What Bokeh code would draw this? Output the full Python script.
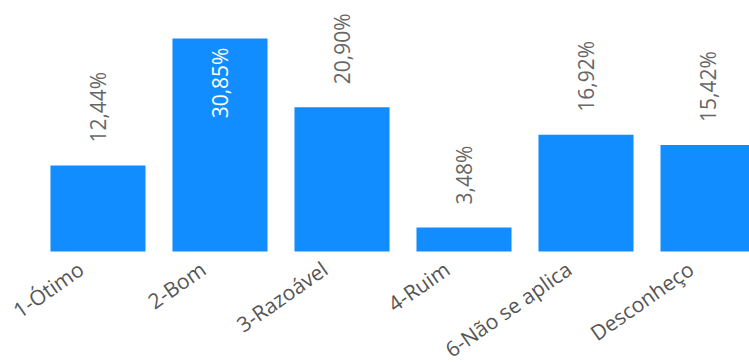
import math
from bokeh.plotting import figure
from bokeh.models import Range1d, ColumnDataSource
from bokeh.core.properties import value
from bokeh.embed import file_html
from bokeh.resources import INLINE

categories = ["1-Ótimo", "2-Bom", "3-Razoável", "4-Ruim", "6-Não se aplica", "Desconheço"]
values = [12.44, 30.85, 20.90, 3.48, 16.92, 15.42]
inside = [False, True, False, False, False, False]

BAR = "#118DFF"
FONT = "Open Sans"

centers = [i + 0.5 for i in range(len(categories))]
labels = [f"{v:.2f}".replace(".", ",") + "%" for v in values]

p = figure(width=749, height=362, output_backend="svg", toolbar_location=None,
           x_range=Range1d(-0.299, 5.84), y_range=Range1d(-16.08, 36.36),
           min_border_left=0, min_border_right=0, min_border_top=0, min_border_bottom=0)
p.outline_line_color = None
p.grid.visible = False
p.axis.visible = False
p.background_fill_color = "white"

src = ColumnDataSource(dict(x=centers, top=values, lab=labels, cat=categories,
                            zero=[0] * len(values)))
p.vbar(x="x", top="top", width=0.779, source=src, color=BAR, line_color=None)

out_idx = [i for i in range(len(values)) if not inside[i]]
in_idx = [i for i in range(len(values)) if inside[i]]
out_src = ColumnDataSource(dict(x=[centers[i] for i in out_idx], y=[values[i] for i in out_idx],
                                lab=[labels[i] for i in out_idx]))
in_src = ColumnDataSource(dict(x=[centers[i] for i in in_idx], y=[values[i] for i in in_idx],
                               lab=[labels[i] for i in in_idx]))
p.text(x="x", y="y", text="lab", source=out_src, angle=math.pi / 2, text_align="left",
       text_baseline="middle", y_offset=-23, text_font=value(FONT), text_font_size="21px",
       text_color="#666666")
p.text(x="x", y="y", text="lab", source=in_src, angle=math.pi / 2, text_align="right",
       text_baseline="middle", y_offset=9, text_font=value(FONT), text_font_size="21px",
       text_color="white")

# category labels (x axis)
p.text(x="x", y="zero", text="cat", source=src, angle=math.radians(35), text_align="right",
       text_baseline="middle", x_offset=-17, y_offset=15, text_font=value(FONT),
       text_font_size="21px", text_color="#555555")

open("out.html", "w").write(file_html(p, INLINE))
